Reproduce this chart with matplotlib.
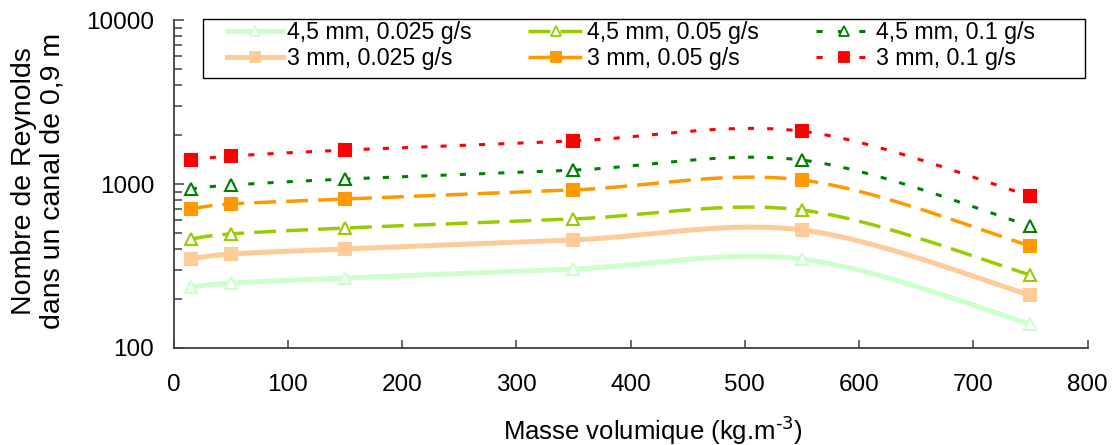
import numpy as np
import matplotlib.pyplot as plt
from matplotlib.patches import Rectangle
from matplotlib.legend_handler import HandlerLine2D

plt.rcParams['font.family'] = ['Liberation Sans', 'DejaVu Sans']

density = [15, 50, 150, 350, 550, 750]

re_45_0025 = [235, 249, 267, 303, 349, 140]
re_45_005 = [462, 496, 539, 612, 694, 279]
re_45_01 = [933, 985, 1072, 1215, 1400, 555]
re_3_0025 = [349, 374, 402, 456, 525, 210]
re_3_005 = [705, 755, 810, 920, 1058, 419]
re_3_01 = [1400, 1480, 1610, 1830, 2100, 845]

labels = ['4,5 mm, 0.025 g/s', '3 mm, 0.025 g/s',
          '4,5 mm, 0.05 g/s', '3 mm, 0.05 g/s',
          '4,5 mm, 0.1 g/s', '3 mm, 0.1 g/s']


def smooth(x, y, n=40):
    # Excel-like smoothed line: Catmull-Rom bezier in (x, log y)
    p = np.column_stack([np.asarray(x, float), np.log10(y)])
    pts = [p[0]]
    t = np.linspace(0, 1, n)[1:, None]
    for i in range(len(p) - 1):
        p0 = p[i - 1] if i > 0 else p[i]
        p1, p2 = p[i], p[i + 1]
        p3 = p[i + 2] if i + 2 < len(p) else p[i + 1]
        c1 = p1 + (p2 - p0) / 6
        c2 = p2 - (p3 - p1) / 6
        seg = ((1 - t) ** 3 * p1 + 3 * (1 - t) ** 2 * t * c1
               + 3 * (1 - t) * t ** 2 * c2 + t ** 3 * p2)
        pts.extend(seg)
    pts = np.array(pts)
    return pts[:, 0], 10 ** pts[:, 1]


dash = (0, (6.3, 2.9))
dot = (0, (2, 4.3))
# data, colour, line style, width, marker, face, legend line style
series = [
    (re_45_0025, '#ccffcc', '-', 3.6, '^', 'white', '-'),
    (re_3_0025, '#ffcc99', '-', 3.6, 's', '#ffcc99', '-'),
    (re_45_005, '#99cc00', dash, 2.5, '^', 'white', dash),
    (re_3_005, '#ff9900', dash, 2.5, 's', '#ff9900', dash),
    (re_45_01, '#008000', dot, 2.2, '^', 'white', (0, (2, 5))),
    (re_3_01, '#ff0000', dot, 2.2, 's', '#ff0000', (0, (2, 5))),
]

fig = plt.figure(figsize=(11.2, 4.45), dpi=100)
ax = fig.add_axes([0.155, 0.218, 0.816, 0.737])

handles = []
for (vals, col, ls, lw, mk, fc, hls), lab in zip(series, labels):
    xs, ys = smooth(density, vals)
    ax.plot(xs, ys, color=col, linestyle=ls, linewidth=lw, zorder=2)
    ax.plot(density, vals, linestyle='none', marker=mk, markersize=8,
            markerfacecolor=fc, markeredgecolor=col, markeredgewidth=1.5, zorder=3)
    h, = ax.plot([], [], color=col, linestyle=hls, linewidth=lw, marker=mk,
                 markersize=7, markerfacecolor=fc, markeredgecolor=col,
                 markeredgewidth=1.3, label=lab)
    handles.append(h)

ax.set_yscale('log')
ax.set_xlim(0, 800)
ax.set_ylim(100, 10000)
ax.set_xticks(range(0, 801, 100))
ax.set_yticks([100, 1000, 10000])
ax.set_yticklabels(['100', '1000', '10000'])

for side in ['top', 'right']:
    ax.spines[side].set_visible(False)
for side in ['left', 'bottom']:
    ax.spines[side].set_color('#404040')
    ax.spines[side].set_linewidth(1.3)

ax.tick_params(which='both', direction='in', color='#404040', width=1.1,
               labelsize=17.5)
ax.tick_params(axis='x', which='major', length=6, pad=19)
ax.tick_params(axis='y', which='major', length=7, pad=14)
ax.tick_params(axis='y', which='minor', length=6)
ax.tick_params(axis='y', which='minor', labelleft=False)

ax.set_xlabel(r'Masse volumique (kg.m$^{\text{-}3}$)', fontsize=18.5)
ax.xaxis.set_label_coords(0.525, -0.2)
ax.set_ylabel('Nombre de Reynolds\ndans un canal de 0,9 m', fontsize=20.5,
              linespacing=1.12)
ax.yaxis.set_label_coords(-0.118, 0.51)

# legend frame drawn separately so the box can be wider than its entries
frame = Rectangle((0.0317, 0.823), 0.965, 0.18, transform=ax.transAxes,
                  facecolor='white', edgecolor='black', linewidth=1.0,
                  clip_on=False, zorder=4)
ax.add_patch(frame)

hmap = {h: HandlerLine2D(xpad=1.1) for h in handles}
leg = ax.legend(handles=handles, ncol=3, loc='upper left',
                bbox_to_anchor=(0.031, 0.996, 0.911, 0), mode='expand',
                fontsize=16.7, frameon=False, borderaxespad=0, borderpad=0,
                handlelength=3.5, handletextpad=0.15, labelspacing=0.12,
                handler_map=hmap)
leg.set_zorder(5)

fig.savefig('out.png', dpi=100)
